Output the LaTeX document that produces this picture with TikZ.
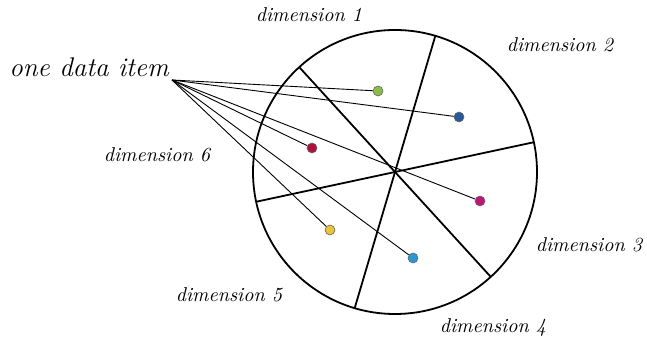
\documentclass[tikz,border=0pt]{standalone}
\usepackage{tikz}
\usetikzlibrary{
  calc,%
  positioning
}
\definecolor{dotgreen}{RGB}{138,188,72}
\definecolor{dotblue}{RGB}{40,88,150}
\definecolor{dotred}{RGB}{172,18,60}
\definecolor{dotmagenta}{RGB}{190,22,120}
\definecolor{dotyellow}{RGB}{232,196,56}
\definecolor{dotcyan}{RGB}{44,152,208}
\tikzset{font=\normalsize}
\tikzset{dot/.style={circle, draw=black!60, line width=0.3pt, inner sep=0pt, minimum size=5pt}}
\tikzset{dimlabel/.style={font=\itshape, inner sep=0pt}}
\tikzset{ray/.style={line width=0.45pt}}
\tikzset{rim/.style={line width=0.9pt}}

\begin{document}
\begin{tikzpicture}[x=0.5pt, y=-0.5pt]
          \useasboundingbox (0,0) rectangle (647,346); %
          \coordinate (hub) at (395,172); %
          \draw[rim] (hub) circle[radius=71pt]; %
          % the three diameters
          \foreach \ang in {47.6, -73.5, -12.1} {
            \draw[rim] ($(hub)+(\ang:142)$) -- ($(hub)+(\ang+180:142)$); %
          }
          % one dot per dimension
          \node[dot, fill=dotgreen] (d1) at (378,91) {}; %
          \node[dot, fill=dotblue] (d2) at (459,117) {}; %
          \node[dot, fill=dotmagenta] (d3) at (480,201) {}; %
          \node[dot, fill=dotcyan] (d4) at (413,258) {}; %
          \node[dot, fill=dotyellow] (d5) at (330,230) {}; %
          \node[dot, fill=dotred] (d6) at (312,148) {}; %
          \node[font=\fontsize{13.5}{16}\selectfont\itshape, inner sep=0pt] (item) at (89,67) {one data item}; %
          \coordinate (src) at (172,80); %
          \foreach \d in {d1,d2,d3,d4,d5,d6} {
            \draw[ray] (src) -- (\d); %
          }
          \node[dimlabel] (l1) at (309,15) {dimension 1}; %
          \node[dimlabel] (l2) at (560,45) {dimension 2}; %
          \node[dimlabel] (l3) at (589,245) {dimension 3}; %
          \node[dimlabel] (l4) at (493,328) {dimension 4}; %
          \node[dimlabel] (l5) at (229,295) {dimension 5}; %
          \node[dimlabel] (l6) at (157,155) {dimension 6}; %
        \end{tikzpicture}
\end{document}
